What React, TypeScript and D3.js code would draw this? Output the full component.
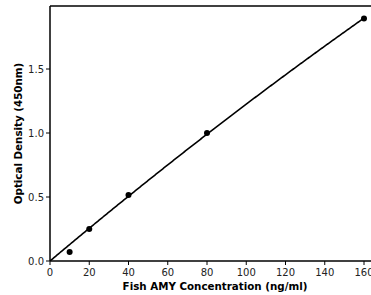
import React from "react";
import * as d3 from "d3";

const concentrations = [10, 20, 40, 80, 160];
const densities = [0.07, 0.25, 0.515, 1.0, 1.895];
const xTicks = [0, 20, 40, 60, 80, 100, 120, 140, 160];
const yTicks = [0, 0.5, 1.0, 1.5];

function quadFitNoIntercept(xs: number[], ys: number[]) {
  // least squares y = b x + c x^2 (curve through origin)
  let s2 = 0, s3 = 0, s4 = 0, t1 = 0, t2 = 0;
  xs.forEach((x, i) => {
    s2 += x * x;
    s3 += x * x * x;
    s4 += x * x * x * x;
    t1 += x * ys[i];
    t2 += x * x * ys[i];
  });
  const det = s2 * s4 - s3 * s3;
  const b = (t1 * s4 - s3 * t2) / det;
  const c = (s2 * t2 - s3 * t1) / det;
  return (x: number) => b * x + c * x * x;
}

export default function App() {
  const W = 371, H = 295;
  const left = 50, top = 6, bottom = 261, right = 378;
  const x = d3.scaleLinear().domain([0, 160]).range([left, 364]);
  const y = d3.scaleLinear().domain([0, 0.5]).range([bottom, 197]);
  const f = quadFitNoIntercept(concentrations, densities);
  const curveX = d3.range(0, 160.01, 0.5);
  const line = d3
    .line<number>()
    .x((d) => x(d))
    .y((d) => y(f(d)));
  const font = "DejaVu Sans, sans-serif";
  return (
    <svg
      width={W}
      height={H}
      style={{ position: "absolute", left: 0, top: 0, background: "#fff" }}
    >
      <defs>
        <clipPath id="pa">
          <rect x={left} y={top} width={right - left} height={bottom - top} />
        </clipPath>
      </defs>
      <path
        d={line(curveX) || ""}
        fill="none"
        stroke="#000"
        strokeWidth={1.6}
        clipPath="url(#pa)"
      />
      {concentrations.map((c, i) => (
        <circle key={i} cx={x(c)} cy={y(densities[i])} r={3} fill="#000" />
      ))}
      <line x1={left} x2={right} y1={top} y2={top} stroke="#000" strokeWidth={1.5} />
      <line x1={left} x2={right} y1={bottom} y2={bottom} stroke="#000" strokeWidth={1.5} />
      <line x1={left} x2={left} y1={top} y2={bottom} stroke="#000" strokeWidth={1.5} />
      {xTicks.map((t) => (
        <g key={t}>
          <line x1={x(t)} x2={x(t)} y1={bottom} y2={bottom + 4} stroke="#000" strokeWidth={1} />
          <text x={x(t)} y={bottom + 15} textAnchor="middle" fontFamily={font} fontSize={10} fill="#222">
            {t}
          </text>
        </g>
      ))}
      {yTicks.map((t) => (
        <g key={t}>
          <line x1={left - 4} x2={left} y1={y(t)} y2={y(t)} stroke="#000" strokeWidth={1} />
          <text x={left - 6} y={y(t) + 3.6} textAnchor="end" fontFamily={font} fontSize={10} fill="#222">
            {t.toFixed(1)}
          </text>
        </g>
      ))}
      <text
        x={215}
        y={290}
        textAnchor="middle"
        fontFamily={font}
        fontSize={10.3}
        fontWeight="bold"
      >
        Fish AMY Concentration (ng/ml)
      </text>
      <text
        transform={`translate(22, 133.5) rotate(-90)`}
        textAnchor="middle"
        fontFamily={font}
        fontSize={10.3}
        fontWeight="bold"
      >
        Optical Density (450nm)
      </text>
    </svg>
  );
}
